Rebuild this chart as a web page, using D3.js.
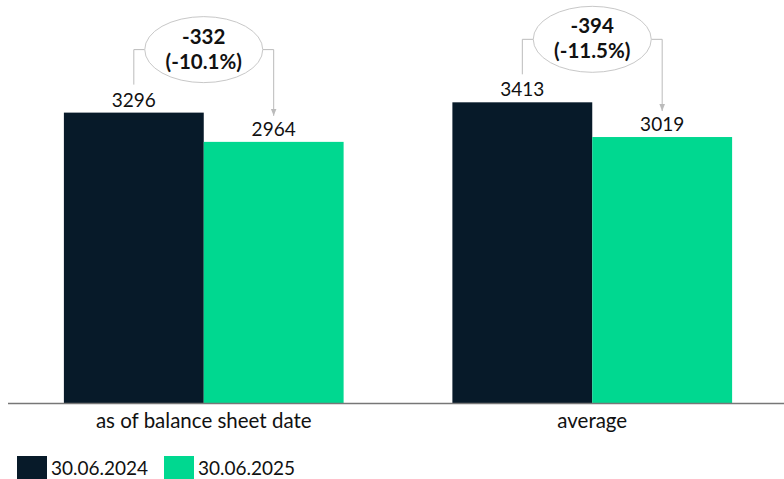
<!DOCTYPE html>
<html>
<head>
<meta charset="utf-8">
<script src="https://cdn.jsdelivr.net/npm/d3@7"></script>
<style>
  body { margin: 0; background: #fff; }
  text { font-family: Lato, "Open Sans", sans-serif; fill: #111; }
</style>
</head>
<body>
<svg id="chart" width="784" height="479"></svg>
<script>
const categories = ["as of balance sheet date", "average"];
const seriesNames = ["30.06.2024", "30.06.2025"];
const values2024 = [3296, 3413];
const values2025 = [2964, 3019];
const diffLabels = ["-332", "-394"];
const pctLabels = ["(-10.1%)", "(-11.5%)"];

const colors = ["#071a29", "#00d890"];

const W = 784, H = 479;
const margin = { top: 0, right: 0, bottom: 76, left: 8 };
const baseY = H - margin.bottom; // 403

const svg = d3.select("#chart");

const x0 = d3.scaleBand()
  .domain(categories)
  .range([9.5, 786.5])
  .paddingInner(0.28)
  .paddingOuter(0.14);

const x1 = d3.scaleBand()
  .domain(seriesNames)
  .range([0, x0.bandwidth()]);

const y = d3.scaleLinear()
  .domain([0, 4000])
  .range([baseY, baseY - 4000 * 0.0881]);

const data = categories.map((c, i) => ({
  cat: c,
  vals: [values2024[i], values2025[i]],
  diff: diffLabels[i],
  pct: pctLabels[i]
}));

const groups = svg.selectAll("g.grp")
  .data(data)
  .enter()
  .append("g")
  .attr("class", "grp")
  .attr("transform", d => `translate(${x0(d.cat)},0)`);

groups.selectAll("rect")
  .data(d => d.vals.map((v, j) => ({ v, s: seriesNames[j], j })))
  .enter()
  .append("rect")
  .attr("x", d => x1(d.s))
  .attr("y", d => y(d.v))
  .attr("width", x1.bandwidth())
  .attr("height", d => baseY - y(d.v))
  .attr("fill", d => colors[d.j]);

groups.selectAll("text.val")
  .data(d => d.vals.map((v, j) => ({ v, s: seriesNames[j] })))
  .enter()
  .append("text")
  .attr("class", "val")
  .attr("x", d => x1(d.s) + x1.bandwidth() / 2)
  .attr("y", d => y(d.v) - 6)
  .attr("text-anchor", "middle")
  .style("font-size", "19px")
  .text(d => d.v);

// axis line
svg.append("line")
  .attr("x1", margin.left).attr("x2", W)
  .attr("y1", baseY + 0.5).attr("y2", baseY + 0.5)
  .attr("stroke", "#777").attr("stroke-width", 1.5);

// category labels
svg.selectAll("text.cat")
  .data(categories)
  .enter()
  .append("text")
  .attr("class", "cat")
  .attr("x", d => x0(d) + x0.bandwidth() / 2)
  .attr("y", baseY + 25)
  .attr("text-anchor", "middle")
  .style("font-size", "20.5px")
  .text(d => d);

// arrowhead
svg.append("defs").append("marker")
  .attr("id", "arr")
  .attr("viewBox", "0 0 10 10")
  .attr("refX", 10).attr("refY", 5)
  .attr("markerWidth", 7).attr("markerHeight", 7)
  .attr("orient", "auto")
  .append("path")
  .attr("d", "M0,1 L10,5 L0,9 Z")
  .attr("fill", "#bbb");

// difference callouts
groups.each(function (d) {
  const g = d3.select(this);
  const cx1 = x1(seriesNames[0]) + x1.bandwidth() / 2;
  const cx2 = x1(seriesNames[1]) + x1.bandwidth() / 2;
  const cx = x1.bandwidth();
  const topY = y(d3.max(d.vals));
  const lineY = topY - 63;
  const rx = 59, ry = 33;

  g.append("path")
    .attr("d", `M${cx1},${y(d.vals[0]) - 28} V${lineY} H${cx - rx}`)
    .attr("fill", "none").attr("stroke", "#bbb").attr("stroke-width", 1);

  g.append("path")
    .attr("d", `M${cx + rx},${lineY} H${cx2} V${y(d.vals[1]) - 26}`)
    .attr("fill", "none").attr("stroke", "#bbb").attr("stroke-width", 1)
    .attr("marker-end", "url(#arr)");

  g.append("ellipse")
    .attr("cx", cx).attr("cy", lineY)
    .attr("rx", rx).attr("ry", ry)
    .attr("fill", "#fff").attr("stroke", "#c8c8c8").attr("stroke-width", 1);

  g.append("text")
    .attr("x", cx).attr("y", lineY - 6)
    .attr("text-anchor", "middle")
    .style("font-size", "20.5px").style("font-weight", "bold")
    .text(d.diff);

  g.append("text")
    .attr("x", cx).attr("y", lineY + 19)
    .attr("text-anchor", "middle")
    .style("font-size", "20.5px").style("font-weight", "bold")
    .text(d.pct);
});

// legend
const legend = svg.append("g").attr("transform", `translate(17,456)`);
const li = legend.selectAll("g")
  .data(seriesNames)
  .enter()
  .append("g")
  .attr("transform", (d, i) => `translate(${i * 147},0)`);
li.append("rect")
  .attr("width", 30).attr("height", 23)
  .attr("fill", (d, i) => colors[i]);
li.append("text")
  .attr("x", 34).attr("y", 19)
  .style("font-size", "19px")
  .text(d => d);
</script>
</body>
</html>
